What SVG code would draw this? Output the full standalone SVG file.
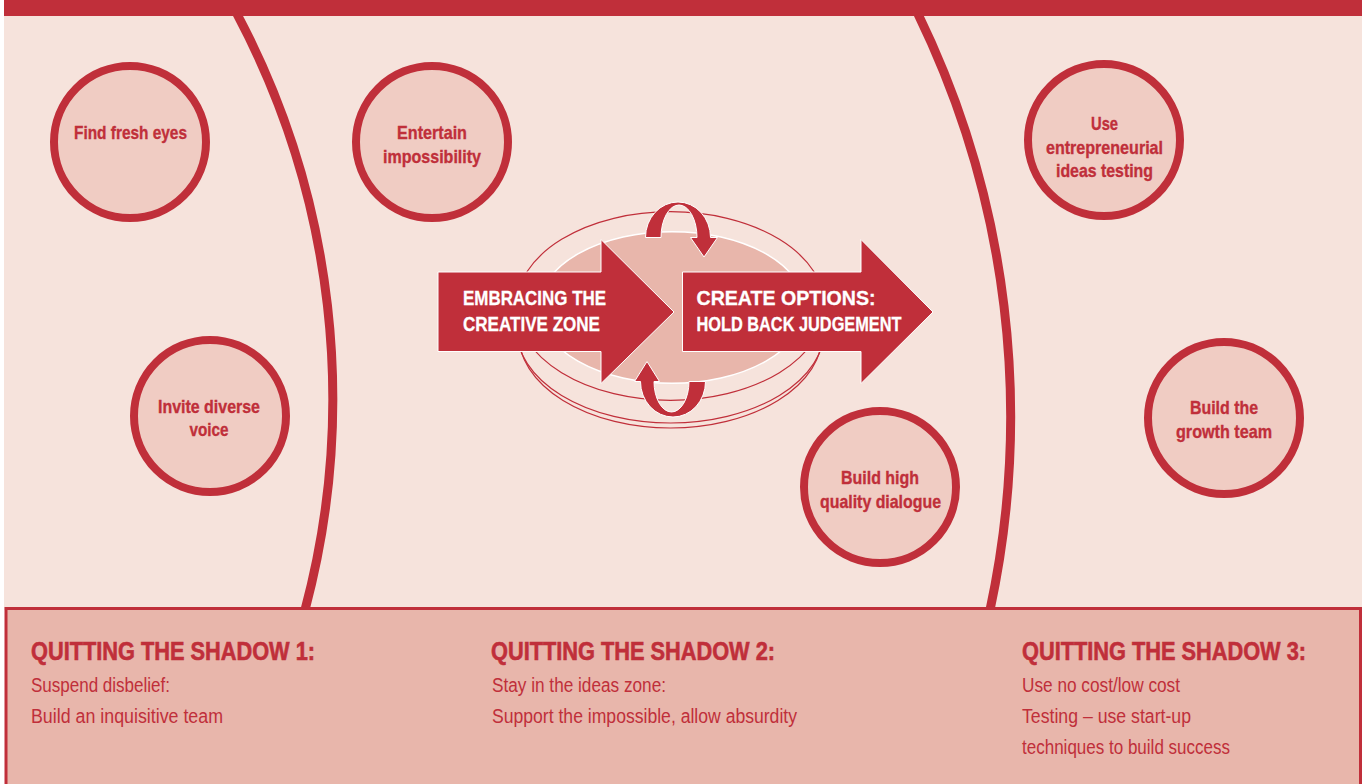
<svg xmlns="http://www.w3.org/2000/svg" width="1367" height="784" viewBox="0 0 1367 784">
<style>
.red{fill:#C02F3A}
.node circle{fill:#F0CCC3;stroke:#C02F3A;stroke-width:8}
.lbl{font-family:"Liberation Sans Narrow","Liberation Sans",sans-serif;font-weight:bold;font-size:19px;fill:#C02F3A;stroke:#C02F3A;stroke-width:0.35;text-anchor:middle}
.arr{fill:#C02F3A;stroke:#FFFFFF;stroke-width:1}
.atxt{font-family:"Liberation Sans Narrow","Liberation Sans",sans-serif;font-weight:bold;font-size:20px;fill:#FFFFFF;stroke:#FFFFFF;stroke-width:0.3}
.head{font-family:"Liberation Sans Narrow","Liberation Sans",sans-serif;font-weight:bold;font-size:25.5px;fill:#C02F3A;stroke:#C02F3A;stroke-width:0.6}
.body{font-family:"Liberation Sans Narrow","Liberation Sans",sans-serif;font-size:20px;fill:#C02F3A}
.thin{fill:none;stroke:#C02F3A;stroke-width:1.2}
.divider{fill:none;stroke:#C02F3A;stroke-width:9}
</style>
<rect x="0" y="0" width="1367" height="784" fill="#FFFFFF"/>
<g id="background">
<rect x="4" y="0" width="1358" height="610" fill="#F6E3DC"/>
<rect x="4" y="0" width="1358" height="16" class="red"/>
</g>
<g id="zone-dividers">
<path class="divider" d="M237,14 A820,820 0 0 1 305,610"/>
<path class="divider" d="M918,14 A920,920 0 0 1 990,610"/>
</g>
<g id="central-disk">
<path class="thin" d="M516.5,306 V329 A154,94 0 0 0 824.5,329 V306"/>
<path class="thin" d="M518.5,306 V334 A152,94 0 0 0 822.5,334 V306"/>
<ellipse class="thin" cx="670.5" cy="306" rx="154" ry="94.3" fill="#F6E3DC"/>
<ellipse cx="672" cy="307.5" rx="133" ry="75.8" fill="#E8B6AB" stroke="#FFFFFF" stroke-width="1.5"/>
</g>
<g id="node-find-fresh-eyes" class="node">
<circle cx="130" cy="142" r="76"/>
<text class="lbl" x="130.5" y="139" textLength="113" lengthAdjust="spacingAndGlyphs">Find fresh eyes</text>
</g>
<g id="node-entertain-impossibility" class="node">
<circle cx="432" cy="142" r="76"/>
<text class="lbl" x="432" y="139" textLength="70" lengthAdjust="spacingAndGlyphs">Entertain</text>
<text class="lbl" x="432" y="163" textLength="98" lengthAdjust="spacingAndGlyphs">impossibility</text>
</g>
<g id="node-invite-diverse-voice" class="node">
<circle cx="210" cy="416" r="76"/>
<text class="lbl" x="209" y="413" textLength="102" lengthAdjust="spacingAndGlyphs">Invite diverse</text>
<text class="lbl" x="209" y="436" textLength="39" lengthAdjust="spacingAndGlyphs">voice</text>
</g>
<g id="node-use-entrepreneurial" class="node">
<circle cx="1104" cy="140" r="76"/>
<text class="lbl" x="1104.5" y="130" textLength="27" lengthAdjust="spacingAndGlyphs">Use</text>
<text class="lbl" x="1104.5" y="154" textLength="117" lengthAdjust="spacingAndGlyphs">entrepreneurial</text>
<text class="lbl" x="1104.5" y="177" textLength="97" lengthAdjust="spacingAndGlyphs">ideas testing</text>
</g>
<g id="node-build-growth-team" class="node">
<circle cx="1224" cy="418" r="76"/>
<text class="lbl" x="1224" y="414" textLength="68" lengthAdjust="spacingAndGlyphs">Build the</text>
<text class="lbl" x="1224" y="438" textLength="96" lengthAdjust="spacingAndGlyphs">growth team</text>
</g>
<g id="node-build-high-quality-dialogue" class="node">
<circle cx="880" cy="487" r="76"/>
<text class="lbl" x="880" y="484" textLength="78" lengthAdjust="spacingAndGlyphs">Build high</text>
<text class="lbl" x="880.5" y="508" textLength="121" lengthAdjust="spacingAndGlyphs">quality dialogue</text>
</g>
<g id="node-embracing">
<path class="arr" d="M438,272 H601 V239.5 L674,312 L601,383.5 V351.5 H438 Z"/>
<text class="atxt" x="463" y="304.5" textLength="143" lengthAdjust="spacingAndGlyphs">EMBRACING THE</text>
<text class="atxt" x="463" y="330.5" textLength="137" lengthAdjust="spacingAndGlyphs">CREATIVE ZONE</text>
</g>
<g id="node-create-options">
<path class="arr" d="M682.5,272 H861 V239.5 L933,312 L861,383.5 V351.5 H682.5 Z"/>
<text class="atxt" x="696.5" y="304.5" textLength="179" lengthAdjust="spacingAndGlyphs">CREATE OPTIONS:</text>
<text class="atxt" x="696.5" y="330.5" textLength="205" lengthAdjust="spacingAndGlyphs">HOLD BACK JUDGEMENT</text>
</g>
<g id="connectors">
<path class="arr" d="M645.5,237.5 A32.5,35.5 0 0 1 710.5,237.5 L717.5,237.5 L704,257 L690.5,237.5 L697,237.5 A18,32.5 0 0 0 661,237.5 Z"/>
<path class="arr" d="M705.5,381.5 A32.5,35.5 0 0 1 640.5,381.5 L634.5,381.5 L647,361.5 L659.5,381.5 L654,381.5 A17.5,30.5 0 0 0 689,381.5 Z"/>
</g>
<g id="shadow-panel">
<rect x="6" y="608.5" width="1354.5" height="190" fill="#E8B6AB" stroke="#C02F3A" stroke-width="3"/>
</g>
<g id="shadow-1">
<text class="head" x="31" y="660" textLength="284" lengthAdjust="spacingAndGlyphs">QUITTING THE SHADOW 1:</text>
<text class="body" x="31" y="692" textLength="139" lengthAdjust="spacingAndGlyphs">Suspend disbelief:</text>
<text class="body" x="31" y="723" textLength="192" lengthAdjust="spacingAndGlyphs">Build an inquisitive team</text>
</g>
<g id="shadow-2">
<text class="head" x="491" y="660" textLength="284" lengthAdjust="spacingAndGlyphs">QUITTING THE SHADOW 2:</text>
<text class="body" x="492" y="692" textLength="174" lengthAdjust="spacingAndGlyphs">Stay in the ideas zone:</text>
<text class="body" x="492" y="723" textLength="305" lengthAdjust="spacingAndGlyphs">Support the impossible, allow absurdity</text>
</g>
<g id="shadow-3">
<text class="head" x="1022" y="660" textLength="284" lengthAdjust="spacingAndGlyphs">QUITTING THE SHADOW 3:</text>
<text class="body" x="1022" y="692" textLength="158" lengthAdjust="spacingAndGlyphs">Use no cost/low cost</text>
<text class="body" x="1022" y="723" textLength="169" lengthAdjust="spacingAndGlyphs">Testing – use start-up</text>
<text class="body" x="1022" y="754" textLength="208" lengthAdjust="spacingAndGlyphs">techniques to build success</text>
</g>
</svg>
